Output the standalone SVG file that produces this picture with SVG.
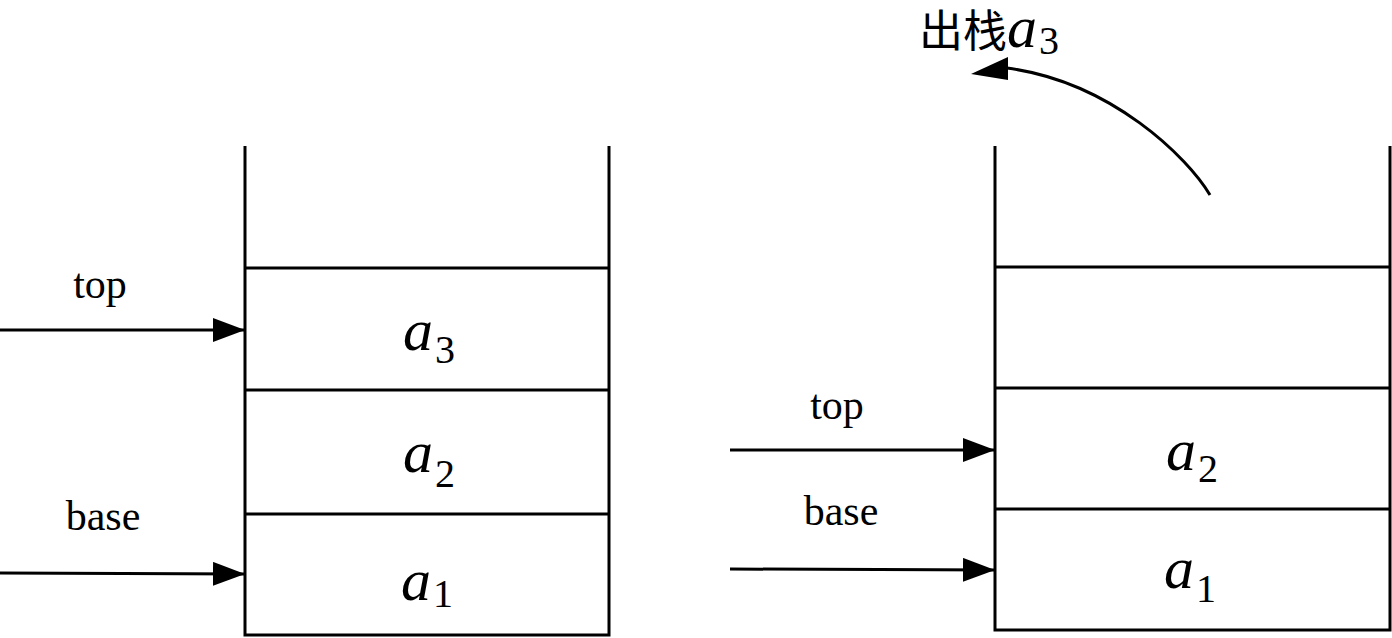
<svg xmlns="http://www.w3.org/2000/svg" width="1392" height="638" viewBox="0 0 1392 638">
<style>
.ln{stroke:#000;stroke-width:3;fill:none}
.lbl{font-size:42px;fill:#000}
.var{font-style:italic;font-size:60px;fill:#000}
.sub{font-style:normal;font-size:40px;fill:#000}
.cjk{font-size:44px;fill:#000}
</style>
<defs>
<marker id="ah" markerWidth="32" markerHeight="24" refX="32" refY="12" orient="auto" markerUnits="userSpaceOnUse">
<path d="M0,0 L32,12 L0,24 Z" fill="#000"/>
</marker>
</defs>
<rect width="1392" height="638" fill="#fff"/>
<g font-family="Liberation Serif, Times New Roman, DejaVu Serif, serif">
<g id="stack-left">
<path class="ln" d="M245,146 V635 H609 V146"/>
<line class="ln" x1="245" y1="268" x2="609" y2="268"/>
<line class="ln" x1="245" y1="390" x2="609" y2="390"/>
<line class="ln" x1="245" y1="514" x2="609" y2="514"/>
<text class="var" x="403" y="350">a<tspan class="sub" dx="2" dy="13">3</tspan></text>
<text class="var" x="403" y="472">a<tspan class="sub" dx="2" dy="15">2</tspan></text>
<text class="var" x="401" y="600">a<tspan class="sub" dx="2" dy="7">1</tspan></text>
</g>
<g id="stack-right">
<path class="ln" d="M995,146 V630 H1390 V146"/>
<line class="ln" x1="995" y1="267" x2="1390" y2="267"/>
<line class="ln" x1="995" y1="388" x2="1390" y2="388"/>
<line class="ln" x1="995" y1="509" x2="1390" y2="509"/>
<text class="var" x="1166" y="470">a<tspan class="sub" dx="2" dy="12">2</tspan></text>
<text class="var" x="1164" y="588">a<tspan class="sub" dx="2" dy="14">1</tspan></text>
</g>
<g id="labels">
<text class="lbl" x="100" y="298" text-anchor="middle">top</text>
<text class="lbl" x="103" y="530" text-anchor="middle">base</text>
<text class="lbl" x="837" y="419" text-anchor="middle">top</text>
<text class="lbl" x="841" y="525" text-anchor="middle">base</text>
<text id="title" class="cjk" x="919" y="47" font-family="Liberation Serif, Noto Sans CJK SC, serif">出栈<tspan class="var" font-size="52">a</tspan><tspan class="sub" dx="2" dy="7">3</tspan></text>
</g>
</g>
<g id="connectors">
<line class="ln" x1="0" y1="330" x2="245" y2="330" marker-end="url(#ah)"/>
<line class="ln" x1="0" y1="573" x2="245" y2="574" marker-end="url(#ah)"/>
<line class="ln" x1="730" y1="450" x2="995" y2="450" marker-end="url(#ah)"/>
<line class="ln" x1="730" y1="569" x2="995" y2="570" marker-end="url(#ah)"/>
<path class="ln" d="M1210,195 C1188,158 1112,82 1007,68"/>
<path d="M971,74 L1008,57 L1008,80 Z" fill="#000"/>
</g>
</svg>
